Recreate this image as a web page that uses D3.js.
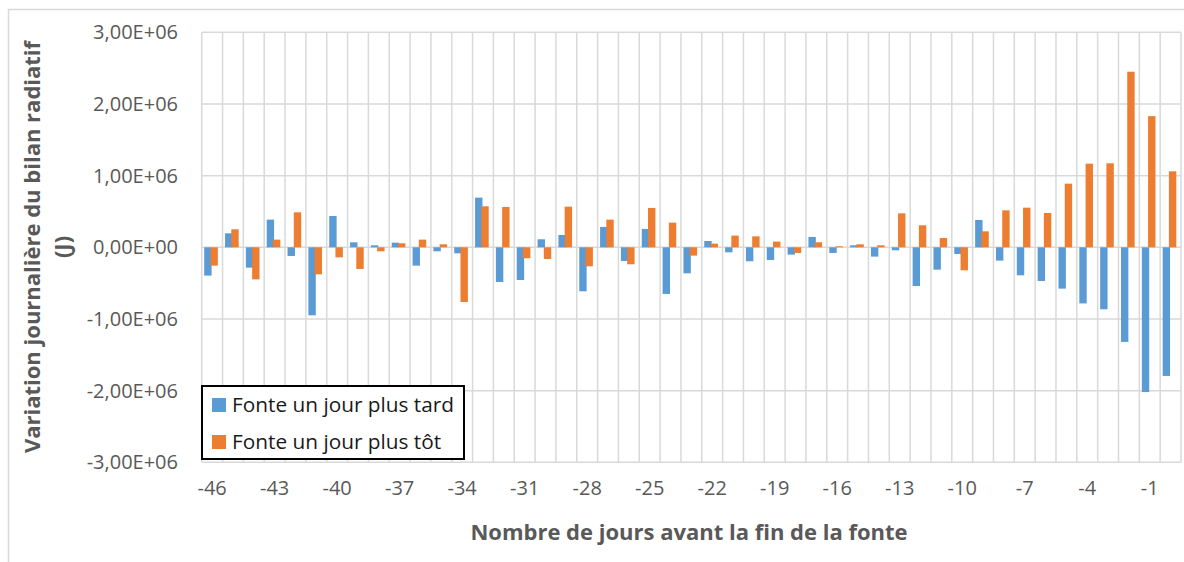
<!DOCTYPE html>
<html>
<head>
<meta charset="utf-8">
<script src="https://cdn.jsdelivr.net/npm/d3@7"></script>
<style>
  html, body { margin: 0; padding: 0; background: #fff; }
  svg { display: block; }
  text { font-family: "Open Sans", "Noto Sans", sans-serif; }
</style>
</head>
<body>
<svg id="chart" width="1184" height="562"></svg>
<script>
// Days before the end of snowmelt
const days = d3.range(-46, 1);

// Daily change in radiative balance (J) when melt ends one day later
const plusTard = [
  -0.395e6, 0.195e6, -0.284e6, 0.386e6, -0.121e6, -0.949e6, 0.437e6, 0.070e6,
  0.028e6, 0.065e6, -0.256e6, -0.056e6, -0.084e6, 0.693e6, -0.484e6, -0.456e6,
  0.112e6, 0.172e6, -0.614e6, 0.284e6, -0.191e6, 0.256e6, -0.651e6, -0.363e6,
  0.088e6, -0.070e6, -0.195e6, -0.177e6, -0.102e6, 0.144e6, -0.079e6, 0.028e6,
  -0.130e6, -0.042e6, -0.540e6, -0.312e6, -0.093e6, 0.381e6, -0.186e6, -0.391e6,
  -0.470e6, -0.577e6, -0.783e6, -0.865e6, -1.320e6, -2.020e6, -1.795e6
];

// Daily change in radiative balance (J) when melt ends one day earlier
const plusTot = [
  -0.256e6, 0.251e6, -0.447e6, 0.107e6, 0.488e6, -0.377e6, -0.140e6, -0.302e6,
  -0.056e6, 0.056e6, 0.107e6, 0.042e6, -0.763e6, 0.572e6, 0.563e6, -0.153e6,
  -0.163e6, 0.567e6, -0.265e6, 0.386e6, -0.237e6, 0.549e6, 0.344e6, -0.116e6,
  0.051e6, 0.163e6, 0.153e6, 0.079e6, -0.079e6, 0.070e6, 0.014e6, 0.042e6,
  0.028e6, 0.474e6, 0.307e6, 0.130e6, -0.321e6, 0.223e6, 0.516e6, 0.553e6,
  0.479e6, 0.888e6, 1.167e6, 1.172e6, 2.450e6, 1.830e6, 1.060e6
];

const yTicks = [-3e6, -2e6, -1e6, 0, 1e6, 2e6, 3e6];
const xTickLabels = [-46, -43, -40, -37, -34, -31, -28, -25, -22, -19, -16, -13, -10, -7, -4, -1];

const seriesNames = ["Fonte un jour plus tard", "Fonte un jour plus tôt"];
const seriesColors = ["#5B9BD5", "#ED7D31"];

const svg = d3.select("#chart");

const plot = { left: 201.7, right: 1181, top: 32.3, bottom: 462.3 };

const x = d3.scaleBand().domain(days).range([plot.left, plot.right]).padding(0);
const y = d3.scaleLinear().domain([-3e6, 3e6]).range([plot.bottom, plot.top]);
const bw = x.bandwidth();

// series position inside each day band
const xs = d3.scaleBand().domain([0, 1]).range([0.12 * bw, 0.12 * bw + 0.60 * bw]).padding(0);
const barW = 0.355 * bw;

// chart frame
svg.append("rect")
  .attr("x", 8.5).attr("y", 9.5)
  .attr("width", 1300).attr("height", 700)
  .attr("fill", "none").attr("stroke", "#d9d9d9").attr("stroke-width", 1.5);

const grid = svg.append("g").attr("stroke", "#d9d9d9").attr("stroke-width", 1.5);

// vertical gridlines at day boundaries
const bounds = days.map(d => x(d)).concat([x(days[days.length - 1]) + bw]);
grid.selectAll("line.v").data(bounds).join("line")
  .attr("class", "v")
  .attr("x1", d => d).attr("x2", d => d)
  .attr("y1", plot.top).attr("y2", plot.bottom);

// horizontal gridlines
grid.selectAll("line.h").data(yTicks).join("line")
  .attr("class", "h")
  .attr("x1", plot.left).attr("x2", plot.right)
  .attr("y1", d => y(d)).attr("y2", d => y(d));

// bars
const series = [plusTard, plusTot];
series.forEach((vals, si) => {
  svg.append("g").attr("fill", seriesColors[si])
    .selectAll("rect").data(days).join("rect")
    .attr("x", (d, i) => x(d) + xs(si))
    .attr("width", barW)
    .attr("y", (d, i) => y(Math.max(0, vals[i])))
    .attr("height", (d, i) => Math.abs(y(vals[i]) - y(0)));
});

// y axis labels
const fmt = v => {
  const s = v.toExponential(2).replace(".", ",");
  const m = s.match(/^(-?[\d,]+)e([+-])(\d+)$/);
  return m[1] + "E" + m[2] + m[3].padStart(2, "0");
};
const yAxis = d3.axisLeft(y).tickValues(yTicks).tickSize(0).tickPadding(0).tickFormat(fmt);
svg.append("g")
  .attr("transform", "translate(178,0)")
  .call(yAxis)
  .call(g => g.select(".domain").remove())
  .call(g => g.selectAll("text")
    .attr("fill", "#595959").attr("font-size", 20)
    .attr("font-family", "'Open Sans', sans-serif"));

// x axis labels
const xAxis = d3.axisBottom(x).tickValues(xTickLabels).tickSize(0).tickPadding(0).tickFormat(d => String(d));
svg.append("g")
  .attr("transform", "translate(0,481)")
  .call(xAxis)
  .call(g => g.select(".domain").remove())
  .call(g => g.selectAll("text")
    .attr("fill", "#595959").attr("font-size", 20)
    .attr("font-family", "'Open Sans', sans-serif"));

// axis titles
svg.append("text")
  .attr("x", 689).attr("y", 540)
  .attr("text-anchor", "middle")
  .attr("fill", "#595959").attr("font-weight", "bold").attr("font-size", 22)
  .text("Nombre de jours avant la fin de la fonte");

const yt = svg.append("g").attr("transform", "translate(0,247) rotate(-90)");
yt.append("text")
  .attr("x", 0).attr("y", 40)
  .attr("text-anchor", "middle")
  .attr("fill", "#595959").attr("font-weight", "bold").attr("font-size", 22)
  .text("Variation journalière du bilan radiatif");
yt.append("text")
  .attr("x", 0).attr("y", 70)
  .attr("text-anchor", "middle")
  .attr("fill", "#595959").attr("font-weight", "bold").attr("font-size", 22)
  .text("(J)");

// legend
const lg = svg.append("g");
lg.append("rect")
  .attr("x", 202).attr("y", 386)
  .attr("width", 262).attr("height", 73)
  .attr("fill", "#fff").attr("stroke", "#000").attr("stroke-width", 2);
seriesNames.forEach((name, i) => {
  const cy = 405 + i * 37;
  lg.append("rect")
    .attr("x", 212).attr("y", cy - 7)
    .attr("width", 14).attr("height", 14)
    .attr("fill", seriesColors[i]);
  lg.append("text")
    .attr("x", 232).attr("y", cy + 7)
    .attr("fill", "#1a1a1a").attr("font-size", 20.8)
    .text(name);
});
</script>
</body>
</html>
